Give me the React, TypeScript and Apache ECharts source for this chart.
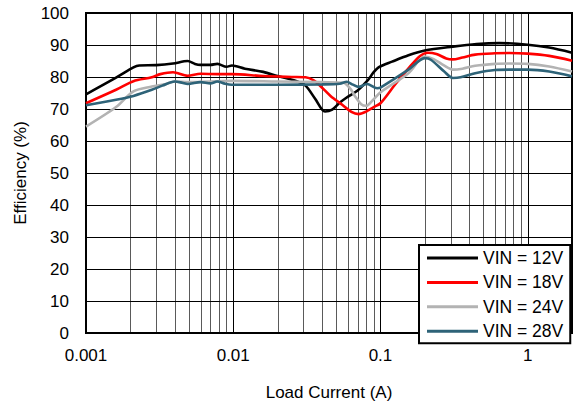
import React, { useEffect, useRef } from "react";
import * as echarts from "echarts";

const seriesNames = ["VIN = 12V", "VIN = 18V", "VIN = 24V", "VIN = 28V"];
const seriesColors = ["#000000", "#ff0000", "#b3b3b3", "#2e6378"];

const vin12: [number, number][] = [
  [0.001, 74.6], [0.0016, 79.8], [0.0021, 83.0], [0.0023, 83.6], [0.003, 83.7], [0.0039, 84.2],
  [0.0049, 85.0], [0.0055, 84.1], [0.006, 83.8], [0.007, 83.8], [0.0078, 84.1], [0.009, 83.2],
  [0.0098, 83.6], [0.012, 82.6], [0.016, 81.6], [0.02, 80.3], [0.027, 78.7], [0.031, 77.3],
  [0.036, 73.2], [0.042, 69.2], [0.047, 69.8], [0.053, 72.0], [0.059, 73.6], [0.07, 75.8],
  [0.081, 78.7], [0.09, 81.5], [0.097, 83.0], [0.12, 84.8], [0.155, 86.8], [0.2, 88.3],
  [0.31, 89.5], [0.45, 90.3], [0.64, 90.6], [1.0, 90.1], [1.4, 89.2], [2.0, 87.6],
];
const vin18: [number, number][] = [
  [0.001, 71.8], [0.0016, 76.0], [0.0021, 78.7], [0.0028, 79.9], [0.0032, 80.9], [0.0039, 81.5],
  [0.0049, 80.4], [0.006, 81.0], [0.0078, 80.9], [0.0098, 80.9], [0.016, 80.3], [0.025, 80.0],
  [0.031, 79.9], [0.035, 79.0], [0.039, 77.2], [0.046, 74.0], [0.054, 71.6], [0.064, 69.0],
  [0.071, 68.4], [0.08, 69.2], [0.09, 70.6], [0.1, 71.8], [0.125, 77.5], [0.155, 82.7],
  [0.185, 86.5], [0.21, 87.6], [0.24, 87.2], [0.28, 85.8], [0.31, 85.5], [0.36, 86.1],
  [0.44, 87.0], [0.6, 87.4], [0.75, 87.5], [1.0, 87.3], [1.4, 86.6], [2.0, 85.1],
];
const vin24: [number, number][] = [
  [0.001, 64.5], [0.0016, 70.6], [0.0021, 75.5], [0.0028, 77.0], [0.0035, 77.8], [0.004, 78.6],
  [0.005, 78.4], [0.0098, 78.8], [0.02, 78.6], [0.04, 78.4], [0.056, 78.2], [0.062, 76.5],
  [0.067, 74.1], [0.074, 71.5], [0.08, 71.0], [0.088, 72.6], [0.1, 75.2], [0.155, 81.2],
  [0.2, 86.4], [0.23, 85.6], [0.27, 83.6], [0.31, 82.3], [0.36, 82.6], [0.44, 83.5],
  [0.6, 84.1], [0.75, 84.2], [1.0, 84.1], [1.4, 83.3], [2.0, 81.7],
];
const vin28: [number, number][] = [
  [0.001, 71.2], [0.0016, 72.9], [0.0021, 74.1], [0.0028, 76.0], [0.0033, 77.3], [0.004, 78.6],
  [0.0045, 78.2], [0.0049, 77.8], [0.006, 78.4], [0.007, 78.0], [0.0078, 78.6], [0.0088, 77.9],
  [0.0098, 77.6], [0.02, 77.6], [0.04, 77.7], [0.053, 77.9], [0.059, 78.5], [0.065, 77.6],
  [0.071, 76.9], [0.081, 77.8], [0.095, 76.5], [0.1, 76.7], [0.155, 82.3], [0.2, 85.9],
  [0.22, 85.4], [0.27, 81.8], [0.31, 79.7], [0.35, 79.9], [0.44, 81.2], [0.6, 82.2],
  [0.75, 82.3], [1.0, 82.3], [1.4, 81.7], [2.0, 80.2],
];

const xMin = 0.001;
const xMax = 2;
const yMin = 0;
const yMax = 100;
const yStep = 10;
const decades = [0.001, 0.01, 0.1, 1];
const minorMultipliers = [2, 3, 4, 5, 6, 7, 8, 9];

const FONT = "'Liberation Sans', Arial, sans-serif";

export default function App() {
  const ref = useRef<HTMLDivElement>(null);
  useEffect(() => {
    if (!ref.current) return;
    const chart = echarts.init(ref.current, undefined, { renderer: "svg" });
    // vertical grid lines: [x, isMajor]
    const vLines: [number, number][] = [];
    decades.forEach((d) => {
      if (d > xMin) vLines.push([d, 1]);
      minorMultipliers.forEach((m) => {
        const v = +(d * m).toPrecision(6);
        if (v < xMax) vLines.push([v, 0]);
      });
    });
    const hLines: [number, number][] = [];
    for (let y = yMin + yStep; y < yMax; y += yStep) hLines.push([xMin, y]);
    const allData = [vin12, vin18, vin24, vin28];
    chart.setOption({
      animation: false,
      textStyle: { fontFamily: FONT, color: "#000" },
      grid: {
        left: 86,
        right: 2,
        top: 13,
        bottom: 63,
        show: true,
        borderColor: "#000",
        borderWidth: 2,
        backgroundColor: "transparent",
        z: 3,
      },
      legend: {
        data: seriesNames,
        orient: "vertical",
        left: 419,
        top: 245,
        padding: [3, 7, 2, 8],
        itemWidth: 51,
        itemHeight: 3,
        itemGap: 4.4,
        icon: "rect",
        backgroundColor: "#fff",
        borderColor: "#000",
        borderWidth: 2,
        textStyle: { fontFamily: FONT, fontSize: 17.5, color: "#000", lineHeight: 20 },
        z: 10,
      },
      xAxis: {
        type: "log",
        logBase: 10,
        min: xMin,
        max: xMax,
        name: "Load Current (A)",
        nameLocation: "middle",
        nameGap: 51,
        nameTextStyle: { fontFamily: FONT, fontSize: 17, color: "#000" },
        axisLine: { show: false },
        axisTick: { show: false },
        axisLabel: {
          fontFamily: FONT,
          fontSize: 17,
          color: "#000",
          margin: 14,
          showMaxLabel: false,
          formatter: (v: number) => {
            const p = +v.toPrecision(6);
            return decades.includes(p) ? String(p) : "";
          },
        },
        splitLine: { show: false },
      },
      yAxis: {
        type: "value",
        min: yMin,
        max: yMax,
        interval: yStep,
        name: "Efficiency (%)",
        nameLocation: "middle",
        nameGap: 57,
        nameTextStyle: { fontFamily: FONT, fontSize: 17, color: "#000" },
        axisLine: { show: false },
        axisTick: { show: false },
        axisLabel: { fontFamily: FONT, fontSize: 17, color: "#000", margin: 17 },
        splitLine: { show: false },
      },
      series: [
        {
          name: "v-grid",
          type: "custom",
          silent: true,
          z: 1,
          data: vLines,
          renderItem: (params: any, api: any) => {
            const x = api.value(0);
            const major = api.value(1) === 1;
            const p0 = api.coord([x, yMin]);
            const p1 = api.coord([x, yMax]);
            const px = Math.round(p0[0]) + 0.5;
            return {
              type: "line",
              shape: { x1: px, y1: p0[1], x2: px, y2: p1[1] },
              style: { stroke: major ? "#000" : "#5a5a5a", lineWidth: 1 },
            };
          },
        },
        {
          name: "h-grid",
          type: "custom",
          silent: true,
          z: 1,
          data: hLines,
          renderItem: (params: any, api: any) => {
            const y = api.value(1);
            const p0 = api.coord([xMin, y]);
            const p1 = api.coord([xMax, y]);
            const py = Math.round(p0[1]) + 0.5;
            return {
              type: "line",
              shape: { x1: p0[0], y1: py, x2: p1[0], y2: py },
              style: { stroke: "#000", lineWidth: 1 },
            };
          },
        },
        ...allData.map((d, i) => ({
          name: seriesNames[i],
          type: "line",
          data: d,
          symbol: "none",
          smooth: 0.3,
          z: 5 + i,
          lineStyle: { color: seriesColors[i], width: 2.6 },
          itemStyle: { color: seriesColors[i] },
        })),
      ],
    });
    return () => chart.dispose();
  }, []);
  return <div ref={ref} style={{ width: 574, height: 406, position: "absolute", left: 0, top: 0 }} />;
}
